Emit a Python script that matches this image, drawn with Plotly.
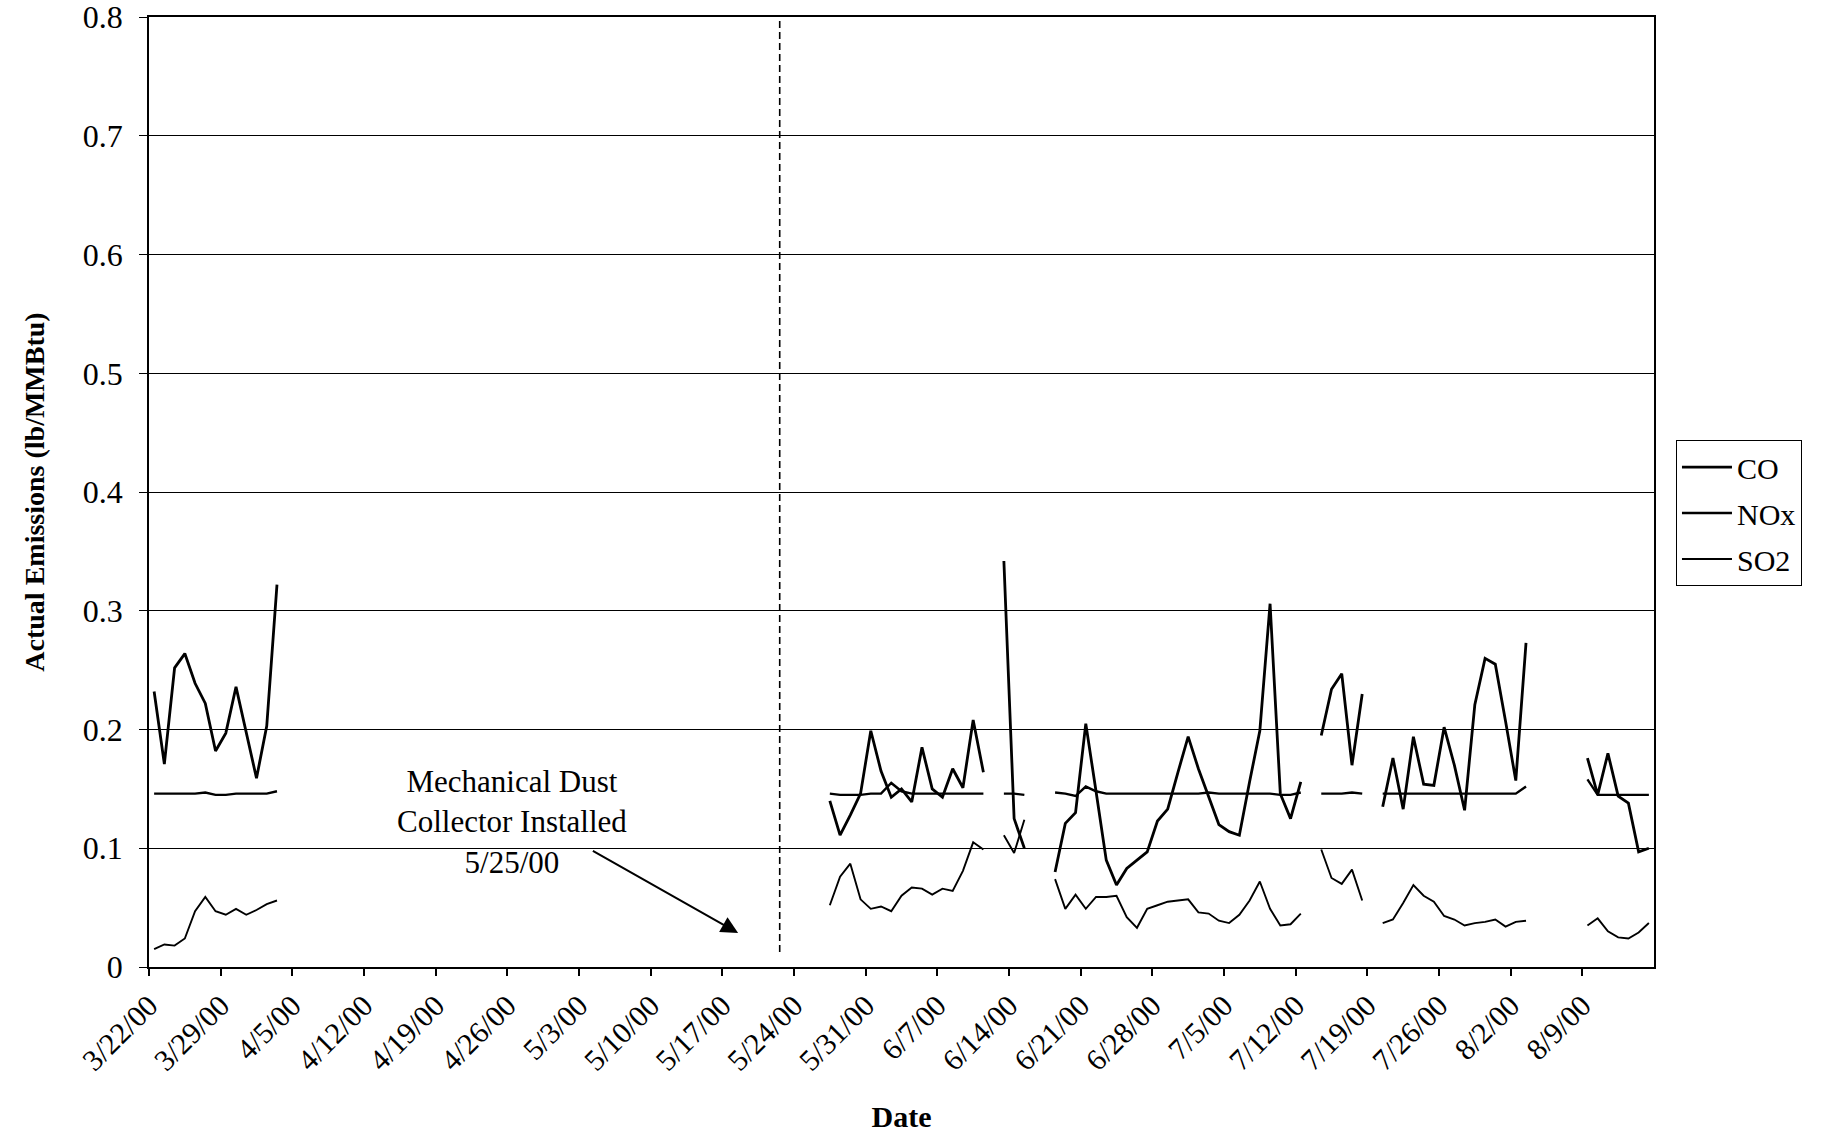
import pandas as pd
import plotly.graph_objects as go

# ---- data ----
segment_starts = ["2000-03-22", "2000-05-27", "2000-06-13", "2000-06-18",
                  "2000-07-14", "2000-07-20", "2000-08-09"]

co_segments = [
    [0.232, 0.171, 0.252, 0.264, 0.239, 0.222, 0.182, 0.197, 0.236, 0.198, 0.159, 0.203, 0.322],
    [0.140, 0.111, 0.128, 0.146, 0.199, 0.165, 0.143, 0.150, 0.139, 0.185, 0.150, 0.143, 0.167, 0.151, 0.208, 0.164],
    [0.342, 0.125, 0.100],
    [0.080, 0.121, 0.130, 0.205, 0.148, 0.090, 0.069, 0.083, 0.090, 0.097, 0.123, 0.133, 0.164,
     0.194, 0.167, 0.143, 0.120, 0.114, 0.111, 0.156, 0.199, 0.306, 0.146, 0.125, 0.156],
    [0.195, 0.234, 0.247, 0.170, 0.230],
    [0.135, 0.176, 0.133, 0.194, 0.154, 0.153, 0.202, 0.170, 0.132, 0.221, 0.260, 0.255, 0.207, 0.157, 0.273],
    [0.176, 0.145, 0.180, 0.144, 0.138, 0.097, 0.100],
]

nox_segments = [
    [0.146, 0.146, 0.146, 0.146, 0.146, 0.147, 0.145, 0.145, 0.146, 0.146, 0.146, 0.146, 0.148],
    [0.146, 0.145, 0.145, 0.145, 0.146, 0.146, 0.155, 0.148, 0.146, 0.146, 0.146, 0.146, 0.146, 0.146, 0.146, 0.146],
    [0.146, 0.146, 0.145],
    [0.147, 0.146, 0.144, 0.152, 0.148, 0.146, 0.146, 0.146, 0.146, 0.146, 0.146, 0.146, 0.146,
     0.146, 0.146, 0.147, 0.146, 0.146, 0.146, 0.146, 0.146, 0.146, 0.145, 0.145, 0.147],
    [0.146, 0.146, 0.146, 0.147, 0.146],
    [0.146, 0.146, 0.146, 0.146, 0.146, 0.146, 0.146, 0.146, 0.146, 0.146, 0.146, 0.146, 0.146, 0.146, 0.152],
    [0.158, 0.145, 0.145, 0.145, 0.145, 0.145, 0.145],
]

so2_segments = [
    [0.015, 0.019, 0.018, 0.024, 0.047, 0.059, 0.047, 0.044, 0.049, 0.044, 0.048, 0.053, 0.056],
    [0.052, 0.076, 0.087, 0.057, 0.049, 0.051, 0.047, 0.060, 0.067, 0.066, 0.061, 0.066, 0.064, 0.081, 0.105, 0.099],
    [0.111, 0.096, 0.124],
    [0.074, 0.049, 0.061, 0.049, 0.059, 0.059, 0.060, 0.042, 0.033, 0.049, 0.052, 0.055, 0.056,
     0.057, 0.046, 0.045, 0.039, 0.037, 0.044, 0.056, 0.072, 0.049, 0.035, 0.036, 0.045],
    [0.099, 0.075, 0.070, 0.082, 0.056],
    [0.037, 0.040, 0.054, 0.069, 0.060, 0.055, 0.043, 0.040, 0.035, 0.037, 0.038, 0.040, 0.034, 0.038, 0.039],
    [0.035, 0.041, 0.030, 0.025, 0.024, 0.029, 0.037],
]

tick_dates = ["2000-03-22", "2000-03-29", "2000-04-05", "2000-04-12", "2000-04-19", "2000-04-26",
              "2000-05-03", "2000-05-10", "2000-05-17", "2000-05-24", "2000-05-31", "2000-06-07",
              "2000-06-14", "2000-06-21", "2000-06-28", "2000-07-05", "2000-07-12", "2000-07-19",
              "2000-07-26", "2000-08-02", "2000-08-09"]
tick_labels = ["3/22/00", "3/29/00", "4/5/00", "4/12/00", "4/19/00", "4/26/00", "5/3/00",
               "5/10/00", "5/17/00", "5/24/00", "5/31/00", "6/7/00", "6/14/00", "6/21/00",
               "6/28/00", "7/5/00", "7/12/00", "7/19/00", "7/26/00", "8/2/00", "8/9/00"]

y_tick_vals = [0, 0.1, 0.2, 0.3, 0.4, 0.5, 0.6, 0.7, 0.8]
y_tick_labels = ["0", "0.1", "0.2", "0.3", "0.4", "0.5", "0.6", "0.7", "0.8"]

series_names = ["CO", "NOx", "SO2"]
series_widths = [2.8, 2.4, 1.9]
FONT = "Liberation Serif"


def build_xy(segments):
    xs, ys = [], []
    for start, vals in zip(segment_starts, segments):
        days = pd.date_range(pd.Timestamp(start) + pd.Timedelta(hours=12), periods=len(vals), freq="D")
        xs += list(days) + [None]
        ys += list(vals) + [None]
    return xs, ys


fig = go.Figure()
for name, segs, w in zip(series_names, [co_segments, nox_segments, so2_segments], series_widths):
    x, y = build_xy(segs)
    fig.add_trace(go.Scatter(x=x, y=y, mode="lines", name=name, legendgroup=name,
                             line=dict(color="black", width=w), connectgaps=False))

# vertical dashed line (dust collector installation)
fig.add_shape(type="line", xref="x", yref="y",
              x0="2000-05-22 14:30", x1="2000-05-22 14:30", y0=0.0126, y1=0.8,
              line=dict(color="black", width=1.6, dash="7px,4px"))

fig.add_annotation(x="2000-04-26 10:00", y=0.122, xref="x", yref="y",
                   text="Mechanical Dust<br>Collector Installed<br>5/25/00",
                   showarrow=False, align="center",
                   font=dict(family=FONT, size=31, color="black"))
fig.add_annotation(x="2000-05-18 13:00", y=0.0286, xref="x", yref="y",
                   ax="2000-05-04 05:00", ay=0.0985, axref="x", ayref="y",
                   text="", showarrow=True, arrowhead=2, arrowsize=1.7, arrowwidth=2,
                   arrowcolor="black")

fig.update_layout(
    width=1821, height=1148,
    margin=dict(l=149, r=167, t=17, b=181),
    paper_bgcolor="white", plot_bgcolor="white",
    font=dict(family=FONT, color="black", size=30),
    showlegend=True,
    legend=dict(x=1.0146, y=0.5547, xanchor="left", yanchor="top",
                bordercolor="black", borderwidth=1, tracegroupgap=4, itemwidth=50,
                font=dict(family=FONT, size=30, color="black")),
)

fig.update_xaxes(
    type="date", range=["2000-03-22", "2000-08-16"],
    tickmode="array", tickvals=tick_dates, ticktext=tick_labels,
    tickangle=-45, tickfont=dict(family=FONT, size=30, color="black"),
    ticks="outside", ticklen=7, tickwidth=1.5, tickcolor="black",
    showline=True, linecolor="black", linewidth=2, mirror=True,
    showgrid=False, zeroline=False, ticklabeloverflow="allow",
    title=dict(text="<b>Date</b>", font=dict(family=FONT, size=30, color="black"), standoff=30),
    automargin=False,
)

fig.update_yaxes(
    range=[0, 0.8002], tickmode="array",
    tickvals=y_tick_vals, ticktext=y_tick_labels,
    tickfont=dict(family=FONT, size=32, color="black"),
    ticks="outside", ticklen=8, tickwidth=1.2, tickcolor="black", ticklabelstandoff=10,
    ticklabeloverflow="allow",
    showline=True, linecolor="black", linewidth=1.5, mirror=True,
    showgrid=True, gridcolor="black", gridwidth=1, zeroline=False,
    title=dict(text="<b>Actual Emissions (lb/MMBtu)</b>",
               font=dict(family=FONT, size=28, color="black"), standoff=30),
    automargin=False,
)

fig.write_html("out.html")
